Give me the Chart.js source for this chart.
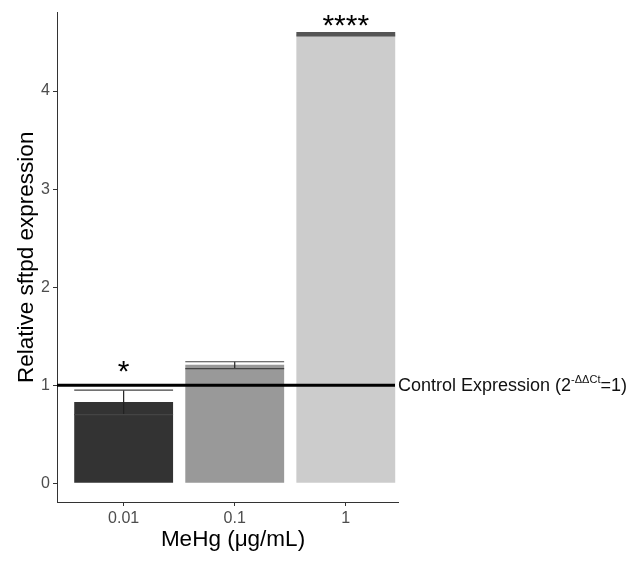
<!DOCTYPE html>
<html>
<head>
<meta charset="utf-8">
<script src="https://cdn.jsdelivr.net/npm/chart.js@4.4.1/dist/chart.umd.min.js"></script>
<style>
  body { margin: 0; background: #fff; }
  #wrap { width: 635px; height: 568px; }
</style>
</head>
<body>
<div id="wrap"><canvas id="exprChart" width="635" height="568"></canvas></div>
<script>
// MeHg doses and relative sftpd expression (2^-ddCt)
const doses = ['0.01', '0.1', '1'];
const meanExpr = [0.83, 1.21, 4.58];
const errLow = [0.70, 1.17, 4.57];
const errHigh = [0.95, 1.24, 4.59];
const sigLabels = ['*', '', '****'];
const barColors = ['#333333', '#999999', '#cccccc'];
const yTicks = [0, 1, 2, 3, 4];
const controlLevel = 1;

const FONT = "'Liberation Sans', Arial, sans-serif";

// error bars + significance stars
const errorBarPlugin = {
    id: 'errorBars',
    afterDatasetsDraw(chart) {
        const ctx = chart.ctx;
        const yScale = chart.scales.y;
        const area = chart.chartArea;
        const meta = chart.getDatasetMeta(0);
        ctx.save();
        meta.data.forEach(function (bar, i) {
            const half = bar.width / 2;
            const yHi = yScale.getPixelForValue(errHigh[i]);
            const yLo = yScale.getPixelForValue(errLow[i]);
            ctx.lineWidth = 1.2;
            ctx.strokeStyle = '#222';
            ctx.beginPath();
            ctx.moveTo(bar.x, yHi);
            ctx.lineTo(bar.x, yLo);
            ctx.stroke();
            ctx.strokeStyle = i === 2 ? '#555' : '#444';
            ctx.lineWidth = i === 2 ? 2.5 : 1.2;
            ctx.beginPath();
            ctx.moveTo(bar.x - half, yHi);
            ctx.lineTo(bar.x + half, yHi);
            ctx.moveTo(bar.x - half, yLo);
            ctx.lineTo(bar.x + half, yLo);
            ctx.stroke();
            if (sigLabels[i]) {
                // star centre sits ~22px over the whisker, kept inside the panel
                const centre = Math.max(yHi - 22, area.top + 9);
                ctx.fillStyle = '#000';
                ctx.font = '30px ' + FONT;
                ctx.textAlign = 'center';
                ctx.textBaseline = 'alphabetic';
                ctx.fillText(sigLabels[i], bar.x, centre + 13);
            }
        });
        ctx.restore();
    }
};

// control line, its label and the axis titles
const annotationPlugin = {
    id: 'annotations',
    afterDraw(chart) {
        const ctx = chart.ctx;
        const area = chart.chartArea;
        const y = chart.scales.y.getPixelForValue(controlLevel);
        ctx.save();
        ctx.strokeStyle = '#000';
        ctx.lineWidth = 3;
        ctx.beginPath();
        ctx.moveTo(area.left, y);
        ctx.lineTo(area.right - 3, y);
        ctx.stroke();

        // "Control Expression (2^-ΔΔCt=1)"
        ctx.fillStyle = '#111';
        ctx.textBaseline = 'middle';
        ctx.textAlign = 'left';
        let x = area.right;
        ctx.font = '18px ' + FONT;
        const part1 = 'Control Expression (2';
        ctx.fillText(part1, x, y + 1);
        x += ctx.measureText(part1).width;
        ctx.font = '11px ' + FONT;
        const sup = '-ΔΔCt';
        ctx.fillText(sup, x, y - 5);
        x += ctx.measureText(sup).width;
        ctx.font = '18px ' + FONT;
        ctx.fillText('=1)', x, y + 1);

        // axis titles
        ctx.fillStyle = '#000';
        ctx.textAlign = 'center';
        ctx.font = '22.5px ' + FONT;
        ctx.fillText('MeHg (\u03bcg/mL)', 233, 540);
        ctx.translate(27, (area.top + area.bottom) / 2);
        ctx.rotate(-Math.PI / 2);
        ctx.fillText('Relative sftpd expression', 0, 0);
        ctx.restore();
    }
};

const config = {
    type: 'bar',
    data: {
        datasets: [{
            data: doses.map(function (d, i) { return { x: i + 1, y: meanExpr[i] }; }),
            backgroundColor: barColors,
            borderWidth: 0,
            barPercentage: 0.89,
            categoryPercentage: 1
        }]
    },
    options: {
        responsive: false,
        animation: false,
        devicePixelRatio: 1,
        layout: { padding: { top: 10, right: 237, left: 0, bottom: 0 } },
        plugins: {
            legend: { display: false },
            tooltip: { enabled: false }
        },
        scales: {
            x: {
                type: 'linear',
                offset: false,
                min: 0.4,
                max: 3.47,
                afterBuildTicks: function (s) { s.ticks = doses.map(function (d, i) { return { value: i + 1 }; }); },
                afterFit: function (s) { s.height = 66; },
                grid: { display: true, offset: false, drawOnChartArea: false, drawTicks: true, tickLength: 4, color: '#333' },
                border: { display: true, color: '#333', width: 1 },
                ticks: {
                    font: { family: FONT, size: 16 },
                    color: '#4d4d4d',
                    padding: 3,
                    callback: function (v) { return doses[v - 1]; }
                }
            },
            y: {
                min: -0.19,
                max: 4.8,
                afterBuildTicks: function (s) { s.ticks = yTicks.map(function (v) { return { value: v }; }); },
                afterFit: function (s) { s.width = 57; },
                grid: { display: true, drawOnChartArea: false, drawTicks: true, tickLength: 4, color: '#333' },
                border: { display: true, color: '#333', width: 1 },
                ticks: {
                    font: { family: FONT, size: 16 },
                    color: '#4d4d4d',
                    padding: 3
                }
            }
        }
    },
    plugins: [errorBarPlugin, annotationPlugin]
};

new Chart(document.getElementById('exprChart').getContext('2d'), config);
</script>
</body>
</html>
